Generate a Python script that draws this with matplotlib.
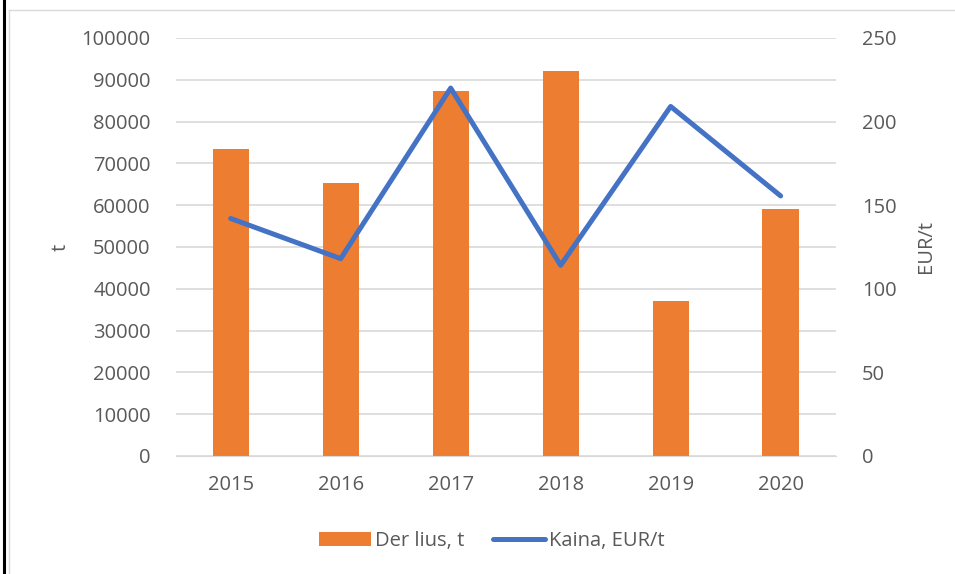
import matplotlib
matplotlib.use("Agg")
import matplotlib.pyplot as plt
from matplotlib.lines import Line2D

# Derlius (t) and price (EUR/t) by year
years = ["2015", "2016", "2017", "2018", "2019", "2020"]
harvest = [73400, 65200, 87300, 92000, 37000, 59000]
price = [142, 118, 220, 114, 209, 155.5]

plt.rcParams["font.family"] = ["Open Sans", "DejaVu Sans"]
grey = "#595959"
fs = 14.5

fig = plt.figure(figsize=(9.55, 5.74), dpi=100)
ax = fig.add_axes([0.184, 0.2056, 0.691, 0.7284])
ax2 = ax.twinx()

x = range(len(years))
ax.bar(x, harvest, width=0.33, color="#ED7D31", label="Der lius, t", zorder=2)
ax2.plot(x, price, color="#4472C4", lw=3.6, solid_capstyle="round",
         label="Kaina, EUR/t", zorder=3)

ax.set_xlim(-0.5, 5.5)
ax.set_ylim(0, 100000)
ax.set_yticks(range(0, 100001, 10000))
ax2.set_ylim(0, 250)
ax2.set_yticks(range(0, 251, 50))
ax.set_xticks(list(x))
ax.set_xticklabels(years)

ax.grid(axis="y", color="#D9D9D9", lw=1.2, zorder=0)
ax.set_axisbelow(True)
for a in (ax, ax2):
    for s in a.spines.values():
        s.set_visible(False)
    a.tick_params(length=0, colors=grey, labelsize=fs)
ax.tick_params(axis="y", pad=18)
ax.tick_params(axis="x", pad=14)
ax2.tick_params(axis="y", pad=19)
ax.spines["bottom"].set_visible(True)
ax.spines["bottom"].set_color("#D9D9D9")

ax.set_ylabel("t", color=grey, fontsize=fs, labelpad=8)
ax2.set_ylabel("EUR/t", color=grey, fontsize=fs, labelpad=14)

h1, l1 = ax.get_legend_handles_labels()
h2, l2 = ax2.get_legend_handles_labels()
fig.legend(h1 + h2, l1 + l2, loc="center", bbox_to_anchor=(0.515, 0.0575),
           ncol=2, frameon=False, fontsize=fs, labelcolor=grey,
           handlelength=2.6, handletextpad=0.2, columnspacing=1.4)

# page borders around the pasted chart
fig.add_artist(Line2D([0.004, 0.004], [0, 1], color="black", lw=2.2))
fig.add_artist(Line2D([0.009, 0.009], [0, 0.983], color="#D9D9D9", lw=1))
fig.add_artist(Line2D([0.009, 1], [0.983, 0.983], color="#D9D9D9", lw=1))

fig.savefig("out.png", dpi=100)
